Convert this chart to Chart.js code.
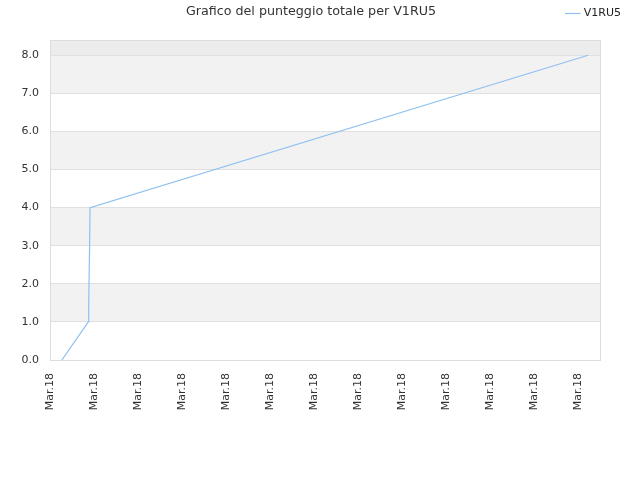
<!DOCTYPE html>
<html>
<head>
<meta charset="utf-8">
<script src="https://cdn.jsdelivr.net/npm/chart.js@4/dist/chart.umd.min.js"></script>
<style>
    html, body { margin: 0; padding: 0; background: #fff; }
    #wrap { width: 640px; height: 480px; }
</style>
</head>
<body>
<div id="wrap"><canvas id="chart" width="640" height="480"></canvas></div>
<script>
// Data (x = position on the time axis, one step per tick)
const titleText = 'Grafico del punteggio totale per V1RU5';
const seriesName = 'V1RU5';
const timeValues = [0.27, 0.87, 0.88, 0.9, 0.91, 12.23];
const scoreValues = [0, 1, 1.5, 3, 4, 8];
const xTickLabel = 'Mar.18';
const xTicks = [0, 1, 2, 3, 4, 5, 6, 7, 8, 9, 10, 11, 12];
const yTicks = [0, 1, 2, 3, 4, 5, 6, 7, 8];

const lineColor = 'rgb(144, 192, 240)';
const fontFamily = '"DejaVu Sans", sans-serif';

// alternating bands + frame around the plot + title
const bandsPlugin = {
    id: 'bands',
    beforeDraw(chart) {
        const { ctx, chartArea, scales } = chart;
        const y = scales.y;
        ctx.save();
        ctx.fillStyle = '#ececec';
        ctx.fillRect(chartArea.left, chartArea.top, chartArea.right - chartArea.left, y.getPixelForValue(8) - chartArea.top);
        ctx.fillStyle = '#f2f2f2';
        for (let v = 1; v < 8; v += 2) {
            const top = y.getPixelForValue(v + 1);
            const bottom = y.getPixelForValue(v);
            ctx.fillRect(chartArea.left, top, chartArea.right - chartArea.left, bottom - top);
        }
        ctx.restore();
    },
    afterDraw(chart) {
        const { ctx, chartArea } = chart;
        ctx.save();
        ctx.strokeStyle = '#dddddd';
        ctx.lineWidth = 1;
        ctx.strokeRect(chartArea.left + 0.5, chartArea.top + 0.5, chartArea.right - chartArea.left, chartArea.bottom - chartArea.top);
        ctx.fillStyle = '#333';
        ctx.font = '12.7px ' + fontFamily;
        ctx.textAlign = 'center';
        ctx.textBaseline = 'middle';
        ctx.fillText(titleText, 311, 12);
        ctx.restore();
    }
};

new Chart(document.getElementById('chart'), {
    type: 'line',
    data: {
        datasets: [{
            label: seriesName,
            data: timeValues.map((t, i) => ({ x: t, y: scoreValues[i] })),
            borderColor: lineColor,
            backgroundColor: lineColor,
            borderWidth: 1.2,
            pointRadius: 0,
            tension: 0,
            fill: false
        }]
    },
    options: {
        responsive: false,
        animation: false,
        layout: { padding: { left: 0, right: 11, top: 0, bottom: 0 } },
        plugins: {
            title: { display: false },
            tooltip: { enabled: false },
            legend: {
                position: 'top',
                align: 'end',
                labels: {
                    usePointStyle: true,
                    pointStyle: 'line',
                    boxWidth: 12,
                    color: '#222',
                    font: { family: fontFamily, size: 11 },
                    padding: 8
                }
            }
        },
        scales: {
            x: {
                type: 'linear',
                min: 0,
                max: 12.5,
                afterFit(axis) { axis.height = 120; },
                afterBuildTicks(axis) { axis.ticks = xTicks.map(v => ({ value: v })); },
                ticks: {
                    minRotation: 90,
                    maxRotation: 90,
                    autoSkip: false,
                    padding: 5,
                    color: '#333',
                    font: { family: fontFamily, size: 11 },
                    callback: () => xTickLabel
                },
                grid: { display: false },
                border: { display: true, color: '#dddddd' }
            },
            // spacer under the legend
            xTop: {
                type: 'linear',
                position: 'top',
                afterFit(axis) { axis.height = 11; },
                ticks: { display: false },
                grid: { display: false },
                border: { display: false }
            },
            y: {
                min: 0,
                max: 8.4,
                afterFit(axis) { axis.width = 50; },
                afterBuildTicks(axis) { axis.ticks = yTicks.map(v => ({ value: v })); },
                ticks: {
                    padding: 11,
                    color: '#333',
                    font: { family: fontFamily, size: 11 },
                    callback: v => v.toFixed(1)
                },
                grid: { color: '#e0e0e0', drawTicks: false },
                border: { display: true, color: '#dddddd' }
            },
            // spacer on the right
            yRight: {
                type: 'linear',
                position: 'right',
                afterFit(axis) { axis.width = 29; },
                ticks: { display: false },
                grid: { display: false },
                border: { display: false }
            }
        }
    },
    plugins: [bandsPlugin]
});
</script>
</body>
</html>
